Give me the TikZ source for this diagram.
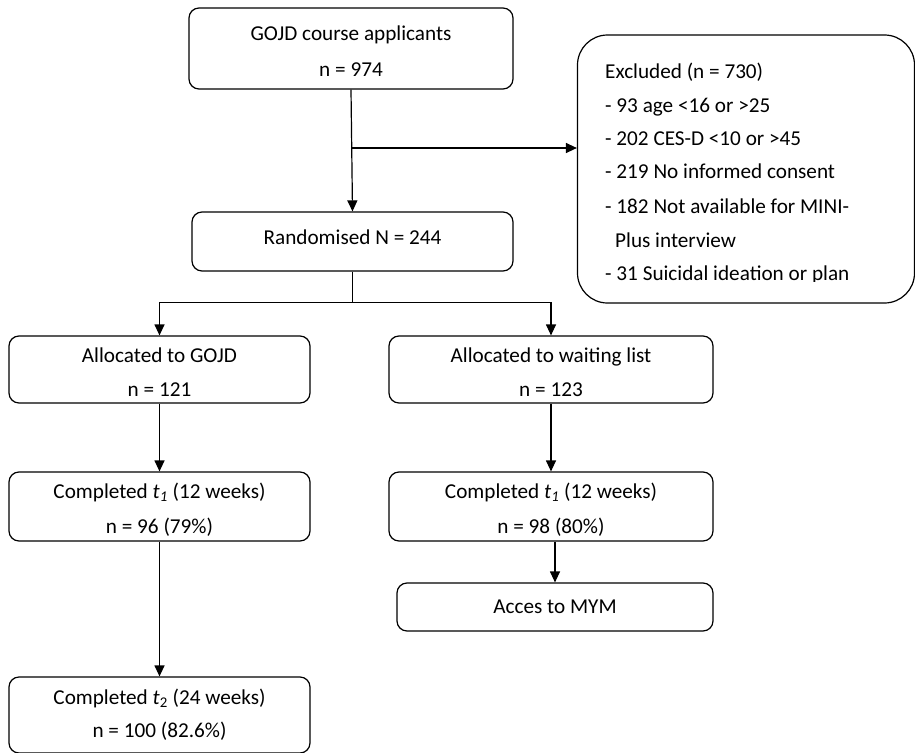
\documentclass[tikz,border=0pt]{standalone}
\usepackage{fontspec}
\setmainfont{Carlito}
\usetikzlibrary{arrows.meta,positioning}
\tikzset{
  box/.style={draw,rounded corners=10pt,line width=1.2pt,inner sep=0pt},
  txt/.style={font=\fontsize{21.2}{24}\selectfont,anchor=base,inner sep=0pt},
  arr/.style={line width=1.2pt,-{Triangle[length=11pt,width=10pt]}}
}
\begin{document}
\begin{tikzpicture}[x=1pt,y=-1pt]
  \useasboundingbox (0,0) rectangle (915,752);

  %% Enrolment
  \node[box,minimum width=324pt,minimum height=81pt] (apply) at (351,48.5) {};
  \node[txt] at (351,41) {GOJD course applicants};
  \node[txt] at (351,76) {n = 974};

  \node[box,minimum width=321pt,minimum height=59pt] (rand) at (352.5,241.5) {};
  \node[txt] at (352.5,244) {Randomised N = 244};

  %% Excluded box
  \node[box,rounded corners=30pt,minimum width=337pt,minimum height=268pt]
        (excl) at (746,169) {};
  \node[txt,anchor=base west] at (605,78) {Excluded (n = 730)};
  \node[txt,anchor=base west] at (605,112) {- 93 age <16 or >25};
  \node[txt,anchor=base west] at (605,145) {- 202 CES-D <10 or >45};
  \node[txt,anchor=base west] at (605,178) {- 219 No informed consent};
  \node[txt,anchor=base west] at (605,213) {- 182 Not available for MINI-};
  \node[txt,anchor=base west] at (615,247) {Plus interview};
  \begin{scope}
    \clip (580,260) rectangle (910,281);
    \node[txt,anchor=base west] at (605,280) {- 31 Suicidal ideation or plan};
  \end{scope}

  %% Allocation
  \node[box,minimum width=301pt,minimum height=67pt] (alloc) at (159.5,369.5) {};
  \node[txt] at (159.5,362.5) {Allocated to GOJD};
  \node[txt] at (159.5,396) {n = 121};

  \node[box,minimum width=324pt,minimum height=67pt] (wait) at (551,369.5) {};
  \node[txt] at (551,362.5) {Allocated to waiting list};
  \node[txt] at (551,396) {n = 123};

  %% Follow-up
  \node[box,minimum width=301pt,minimum height=69pt] (gojd1) at (159.5,506.5) {};
  \node[txt] at (159.5,498) {Completed \textit{t\textsubscript{1}} (12 weeks)};
  \node[txt] at (159.5,533) {n = 96 (79\%)};

  \node[box,minimum width=324pt,minimum height=69pt] (wait1) at (551,506.5) {};
  \node[txt] at (551,498) {Completed \textit{t\textsubscript{1}} (12 weeks)};
  \node[txt] at (551,533) {n = 98 (80\%)};

  \node[box,minimum width=316pt,minimum height=48pt] (mym) at (555,607) {};
  \node[txt] at (555,613) {Acces to MYM};

  \node[box,minimum width=301pt,minimum height=76pt] (gojd2) at (159.5,715) {};
  \node[txt] at (159.5,704) {Completed \textit{t}\textsubscript{2} (24 weeks)};
  \node[txt] at (159.5,737) {n = 100 (82.6\%)};

  %% Connectors
  \coordinate (split) at (352,148);
  \draw[arr] (apply.south) -- (rand.north);
  \draw[arr] (split) -- (split -| excl.west);
  \draw[arr] (rand.south) -- ++(0,31) -| (alloc.north);
  \draw[arr] (rand.south) -- ++(0,31) -| (wait.north);
  \draw[arr] (alloc) -- (gojd1);
  \draw[arr] (gojd1) -- (gojd2);
  \draw[arr] (wait) -- (wait1);
  \draw[arr] (wait1.south -| mym.north) -- (mym.north);
\end{tikzpicture}
\end{document}
